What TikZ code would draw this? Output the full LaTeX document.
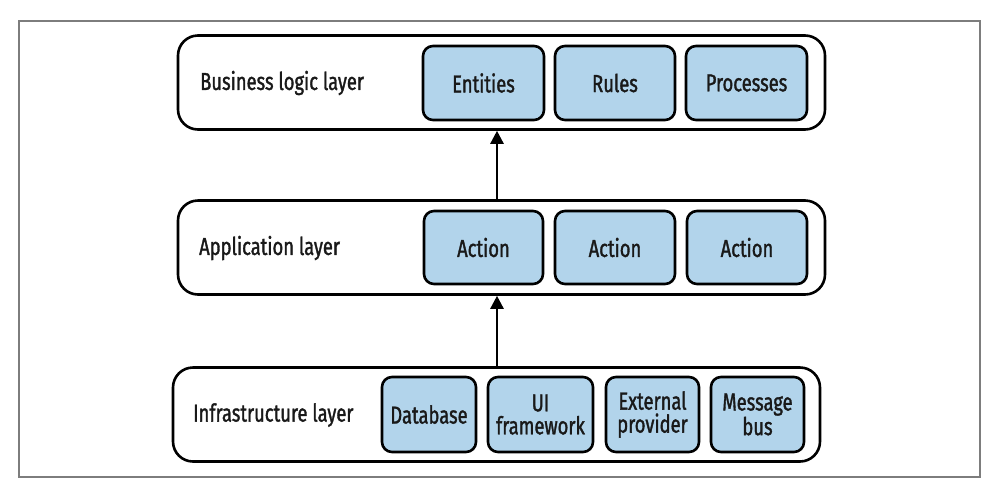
\documentclass[tikz,border=0pt]{standalone}
\usepackage{fontspec}
\setmainfont{Fira Sans}[FakeStretch=0.75, FakeBold=1.4]
\usetikzlibrary{positioning, arrows.meta}
\definecolor{boxblue}{RGB}{178,212,235}
\definecolor{framegray}{RGB}{125,125,125}

\tikzset{
  layer/.style={draw, line width=2.6pt, rounded corners=20pt,
    minimum width=647pt, minimum height=94pt},
  part/.style={draw, line width=2.6pt, fill=boxblue, rounded corners=10pt,
    minimum height=74pt, inner sep=1pt, align=center},
  layername/.style={anchor=west, inner sep=0pt},
  up/.style={-{Triangle[length=13pt, width=13pt]}, line width=2.5pt}
}

\begin{document}
\begin{tikzpicture}[x=1pt, y=-1pt, font=\fontsize{24.5}{23}\selectfont, text=black!90]
  \useasboundingbox (0,0) rectangle (993,491);
  \draw [framegray, line width=1.5pt] (19,21) rectangle (980,477);

  % layers
  \node [layer] (biz) at (501.5,82.5) {};
  \node [layer] (app) at (501.5,247.5) {};
  \node [layer] (infra) at (496.5,414.5) {};

  \node [layername] (bizname) at (200,83) {Business logic layer};
  \node [layername] (appname) at (199,248) {Application layer};
  \node [layername] (infraname) at (193,415) {Infrastructure layer};

  % business logic
  \node [part, minimum width=121pt] (entities) at (483.5,83) {Entities};
  \node [part, minimum width=120pt] (rules) at (615,83) {Rules};
  \node [part, minimum width=121pt] (processes) at (746.5,83) {Processes};

  % application
  \node [part, minimum width=119pt, minimum height=73pt] (action1) at (483.5,247.5) {Action};
  \node [part, minimum width=120pt, minimum height=73pt] (action2) at (615,247.5) {Action};
  \node [part, minimum width=120pt, minimum height=73pt] (action3) at (747,247.5) {Action};

  % infrastructure
  \node [part, minimum width=94pt, minimum height=75pt] (database) at (429,414.5) {Database};
  \node [part, minimum width=105pt, minimum height=75pt] (uiframe) at (540.5,414.5) {UI\\framework};
  \node [part, minimum width=93pt, minimum height=75pt] (provider) at (652.5,414.5) {External\\provider};
  \node [part, minimum width=93pt, minimum height=75pt] (msgbus) at (757.5,414.5) {Message\\bus};

  \draw [up] ([xshift=0.5pt]infra.north) -- ([xshift=0.5pt]infra.north |- app.south);
  \draw [up] ([xshift=-4.5pt]app.north) -- ([xshift=-4.5pt]app.north |- biz.south);
\end{tikzpicture}
\end{document}
